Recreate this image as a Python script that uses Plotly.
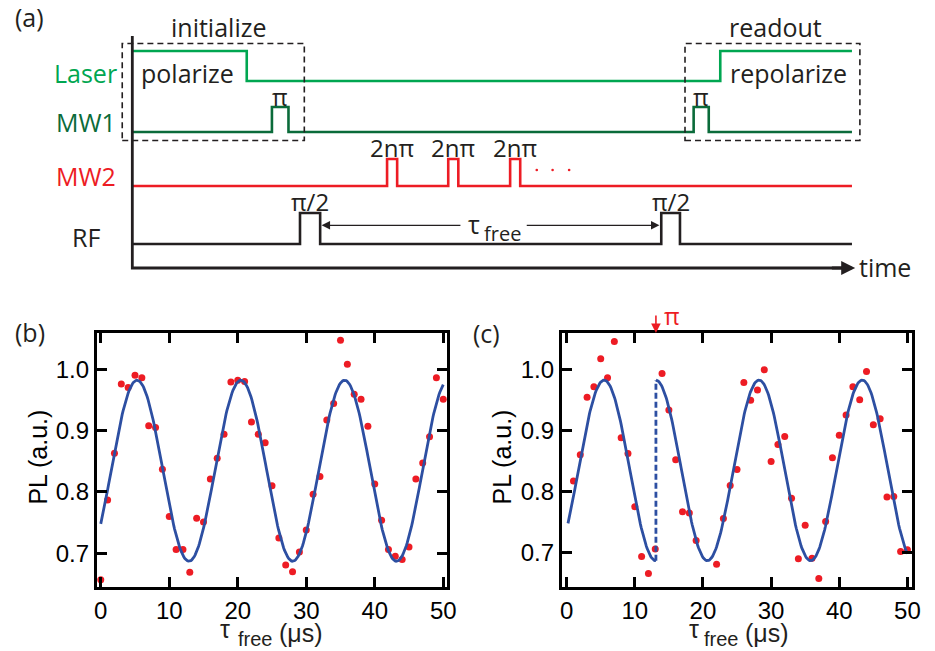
import numpy as np
import plotly.graph_objects as go

# ---------------- measured PL versus free-evolution time ----------------
tau_b = list(range(0, 51))
pl_b = [0.657, 0.787, 0.863, 0.976, 0.970, 0.990, 0.986, 0.908, 0.905, 0.837,
        0.760, 0.706, 0.706, 0.669, 0.757, 0.751, 0.821, 0.855, 0.894, 0.979,
        0.982, 0.980, 0.914, 0.894, 0.880, 0.810, 0.725, 0.681, 0.670, 0.702,
        0.738, 0.796, 0.825, 0.917, 0.944, 1.047, 1.008, 0.959, 0.951, 0.907,
        0.813, 0.754, 0.706, 0.695, 0.690, 0.710, 0.821, 0.847, 0.890, 0.986,
        0.951]

tau_c = list(range(1, 20)) + list(range(22, 51))
pl_c = [0.817, 0.860, 0.954, 0.971, 1.017, 0.986, 1.045, 0.888, 0.862, 0.775,
        0.694, 0.666, 0.706, 0.993, 0.933, 0.852, 0.767, 0.765, 0.720,
        0.681, 0.756, 0.810, 0.836, 0.978, 0.949, 0.966, 0.999, 0.849, 0.877,
        0.890, 0.789, 0.690, 0.745, 0.691, 0.658, 0.751, 0.855, 0.892, 0.925,
        0.971, 0.950, 0.996, 0.909, 0.919, 0.791, 0.792, 0.702, 0.705]

# sinusoidal fit parameters (us)
fit_offset = 0.8345
fit_amp = 0.1475
fit_period = 15.15
fit_peak_b = 5.3
fit_peak_c = 5.5
t_pi_flip = 13.1          # time of the MW2 pi pulse in (c)

# ---------------- pulse sequence (arbitrary time units) ----------------
seq_end = 100.0
laser_levels = (18.7, 21.7)
laser_on = [(0.0, 15.9), (81.7, 100.0)]
mw1_levels = (13.6, 16.1)
mw1_pulses = [(19.4, 21.7), (78.0, 80.1)]
mw2_levels = (8.2, 10.9)
mw2_pulses = [(35.4, 36.8), (43.9, 45.3), (52.5, 53.9)]
rf_levels = (2.4, 5.5)
rf_pulses = [(23.3, 26.1), (73.5, 76.1)]
box_init = (-1.4, 23.9)
box_read = (76.8, 101.1)
box_y = (12.75, 22.45)
axis_top = 23.2
tau_free_span = (26.3, 73.25)
tau_free_level = 4.27

C_LASER = "#00a651"
C_MW1 = "#0a6b3a"
C_MW2 = "#ed1c24"
C_RF = "#231f20"
C_DOT = "#ed1c24"
C_FIT = "#2d4fa2"
C_TXT = "#231f20"
SANS = "Liberation Sans, Arial, sans-serif"
HUM = "Open Sans, sans-serif"


def pulse_train(pulses, base, high, t0=0.0, t1=seq_end):
    xs, ys = [t0], [high if pulses and pulses[0][0] <= t0 else base]
    for s, e in pulses:
        if s > t0:
            xs += [s, s]
            ys += [base, high]
        xs.append(e)
        ys.append(high)
        if e < t1:
            xs.append(e)
            ys.append(base)
    if xs[-1] < t1:
        xs.append(t1)
        ys.append(base)
    return xs, ys


fig = go.Figure()

# ---- panel (a): sequence diagram ----
for pulses, (lo, hi), col in [(laser_on, laser_levels, C_LASER),
                              (mw1_pulses, mw1_levels, C_MW1),
                              (mw2_pulses, mw2_levels, C_MW2),
                              (rf_pulses, rf_levels, C_RF)]:
    xs, ys = pulse_train(pulses, lo, hi)
    fig.add_trace(go.Scatter(x=xs, y=ys, mode="lines", xaxis="x3", yaxis="y3",
                             line=dict(color=col, width=2.6), hoverinfo="skip",
                             showlegend=False))

# vertical axis of the diagram
fig.add_trace(go.Scatter(x=[0, 0, 99.0], y=[axis_top, 0, 0], mode="lines",
                         xaxis="x3", yaxis="y3",
                         line=dict(color=C_TXT, width=2.8), hoverinfo="skip",
                         showlegend=False))

# ellipsis after the MW2 pulses
fig.add_trace(go.Scatter(x=[56.2, 58.4, 60.7], y=[9.8, 9.8, 9.8], mode="markers",
                         xaxis="x3", yaxis="y3",
                         marker=dict(color=C_MW2, size=2.6), hoverinfo="skip",
                         showlegend=False))

shapes = []
for (x0, x1) in [box_init, box_read]:
    shapes.append(dict(type="rect", xref="x3", yref="y3", x0=x0, x1=x1,
                       y0=box_y[0], y1=box_y[1],
                       line=dict(color=C_TXT, width=1.6, dash="6px,4px")))

annotations = []


def txt(x, y, s, size=25, color=C_TXT, xanchor="center", yanchor="middle",
        xref="x3", yref="y3", font=HUM):
    annotations.append(dict(x=x, y=y, xref=xref, yref=yref, text=s,
                            showarrow=False, xanchor=xanchor, yanchor=yanchor,
                            borderpad=0,
                            font=dict(family=font, size=size, color=color)))


txt(-6.45, 19.53, "Laser", color=C_LASER)
txt(-6.45, 14.63, "MW1", color=C_MW1)
txt(-6.45, 9.2, "MW2", color=C_MW2)
txt(-6.45, 3.13, "RF")
txt(7.6, 19.53, "polarize")
txt(91.2, 19.53, "repolarize")
txt(11.93, 24.1, "initialize")
txt(89.4, 24.1, "readout")
for (s, e) in mw1_pulses:
    txt((s + e) / 2, 17.13, "π", size=24)
for (s, e) in mw2_pulses:
    txt((s + e) / 2, 12.07, "2nπ", size=24)
for (s, e) in rf_pulses:
    txt((s + e) / 2, 6.63, "π/2", size=24)
txt(100.9, 0.13, "time", xanchor="left")
txt(47.46, 4.4, "τ", size=25)
txt(51.44, 3.45, "free", size=20)

# time axis arrowhead and tau_free arrows
annotations.append(dict(x=100.45, y=0, ax=97.0, ay=0, xref="x3", yref="y3",
                        axref="x3", ayref="y3", text="", showarrow=True,
                        arrowhead=2, arrowsize=1.0, arrowwidth=2.8,
                        arrowcolor=C_TXT))
annotations.append(dict(x=tau_free_span[0], y=tau_free_level, ax=45.8,
                        ay=tau_free_level, xref="x3", yref="y3", axref="x3",
                        ayref="y3", text="", showarrow=True, arrowhead=2,
                        arrowsize=1.3, arrowwidth=1.3, arrowcolor=C_TXT))
annotations.append(dict(x=tau_free_span[1], y=tau_free_level, ax=54.6,
                        ay=tau_free_level, xref="x3", yref="y3", axref="x3",
                        ayref="y3", text="", showarrow=True, arrowhead=2,
                        arrowsize=1.3, arrowwidth=1.3, arrowcolor=C_TXT))

# ---- panels (b) and (c): data and fits ----
fig.add_trace(go.Scatter(x=tau_b, y=pl_b, mode="markers", xaxis="x", yaxis="y",
                         marker=dict(color=C_DOT, size=7), showlegend=False))
tb = np.linspace(0.0, 50.0, 400)
fig.add_trace(go.Scatter(
    x=tb, y=fit_offset + fit_amp * np.cos(2 * np.pi * (tb - fit_peak_b) / fit_period),
    mode="lines", xaxis="x", yaxis="y", line=dict(color=C_FIT, width=2.8),
    showlegend=False))

fig.add_trace(go.Scatter(x=tau_c, y=pl_c, mode="markers", xaxis="x2", yaxis="y2",
                         marker=dict(color=C_DOT, size=7), showlegend=False))
t1 = np.linspace(0.2, t_pi_flip, 120)
t2 = np.linspace(t_pi_flip, 50.0, 320)
y1 = fit_offset + fit_amp * np.cos(2 * np.pi * (t1 - fit_peak_c) / fit_period)
y2 = fit_offset - fit_amp * np.cos(2 * np.pi * (t2 - fit_peak_c) / fit_period)
fig.add_trace(go.Scatter(x=t1, y=y1, mode="lines", xaxis="x2", yaxis="y2",
                         line=dict(color=C_FIT, width=2.8), showlegend=False))
fig.add_trace(go.Scatter(x=t2, y=y2, mode="lines", xaxis="x2", yaxis="y2",
                         line=dict(color=C_FIT, width=2.8), showlegend=False))
fig.add_trace(go.Scatter(x=[t_pi_flip, t_pi_flip], y=[y1[-1], y2[0]], mode="lines",
                         xaxis="x2", yaxis="y2",
                         line=dict(color=C_FIT, width=2.8, dash="6px,3px"),
                         showlegend=False))

# pi-pulse marker above (c)
annotations.append(dict(x=t_pi_flip, y=1.0, xref="x2", yref="y2 domain",
                        ax=0, ay=-19, text="", showarrow=True, arrowhead=2,
                        arrowsize=1.2, arrowwidth=1.6, arrowcolor=C_MW2))
txt(t_pi_flip + 1.1, 1.0, "π", size=24, color=C_MW2, xanchor="left",
    yanchor="bottom", xref="x2", yref="y2 domain")

# panel letters
txt(27 / 935, 1 - 17 / 651, "(a)", xref="paper", yref="paper")
txt(27 / 935, 1 - 332 / 651, "(b)", xref="paper", yref="paper")
txt(490 / 935, 1 - 333 / 651, "(c)", xref="paper", yref="paper")

# axis titles
for xc_tau, xc_free, xc_mu, ylab_x in [(225, 255.5, 301.7, 35), (700, 727.7, 773.7, 505)]:
    txt(xc_tau / 935, 1 - 629 / 651, "τ", size=25, xref="paper", yref="paper", font=SANS)
    txt(xc_free / 935, 0.0, "free", size=20, xref="paper", yref="paper", font=SANS,
        yanchor="bottom")
    txt(xc_mu / 935, 1 - 633 / 651, "(μs)", size=25, xref="paper", yref="paper", font=SANS)
    annotations.append(dict(x=ylab_x / 935, y=1 - 457 / 651, xref="paper", yref="paper",
                            text="PL (a.u.)", showarrow=False, textangle=-90,
                            xanchor="center", yanchor="middle",
                            font=dict(family=SANS, size=25, color="black")))

frame = dict(showline=True, linecolor="black", linewidth=2.8, mirror="ticks",
             ticks="inside", ticklen=10, tickwidth=2.6, tickcolor="black",
             showgrid=False, zeroline=False,
             tickfont=dict(family=SANS, size=24, color="black"))
y_dom = [1 - 587 / 651, 1 - 333 / 651]

fig.update_layout(
    width=935, height=651, margin=dict(l=0, r=0, t=0, b=0),
    paper_bgcolor="white", plot_bgcolor="rgba(0,0,0,0)",
    xaxis=dict(domain=[95 / 935, 450 / 935], range=[-0.58, 50.58],
               tickvals=[0, 10, 20, 30, 40, 50], anchor="y", **frame),
    yaxis=dict(domain=y_dom, range=[0.645, 1.059],
               tickvals=[0.7, 0.8, 0.9, 1.0], ticktext=["0.7", "0.8", "0.9", "1.0"],
               anchor="x", **frame),
    xaxis2=dict(domain=[566 / 935, 921 / 935], range=[-0.72, 50.7],
                tickvals=[0, 10, 20, 30, 40, 50], anchor="y2", **frame),
    yaxis2=dict(domain=y_dom, range=[0.644, 1.059],
                tickvals=[0.7, 0.8, 0.9, 1.0], ticktext=["0.7", "0.8", "0.9", "1.0"],
                anchor="x2", **frame),
    xaxis3=dict(domain=[0, 1], range=[-131 / 7.29, 804 / 7.29], visible=False,
                anchor="y3"),
    yaxis3=dict(domain=[1 - 290 / 651, 1], range=[-2.2, 26.8], visible=False,
                anchor="x3"),
    shapes=shapes,
    annotations=annotations,
)

fig.write_html("out.html")
